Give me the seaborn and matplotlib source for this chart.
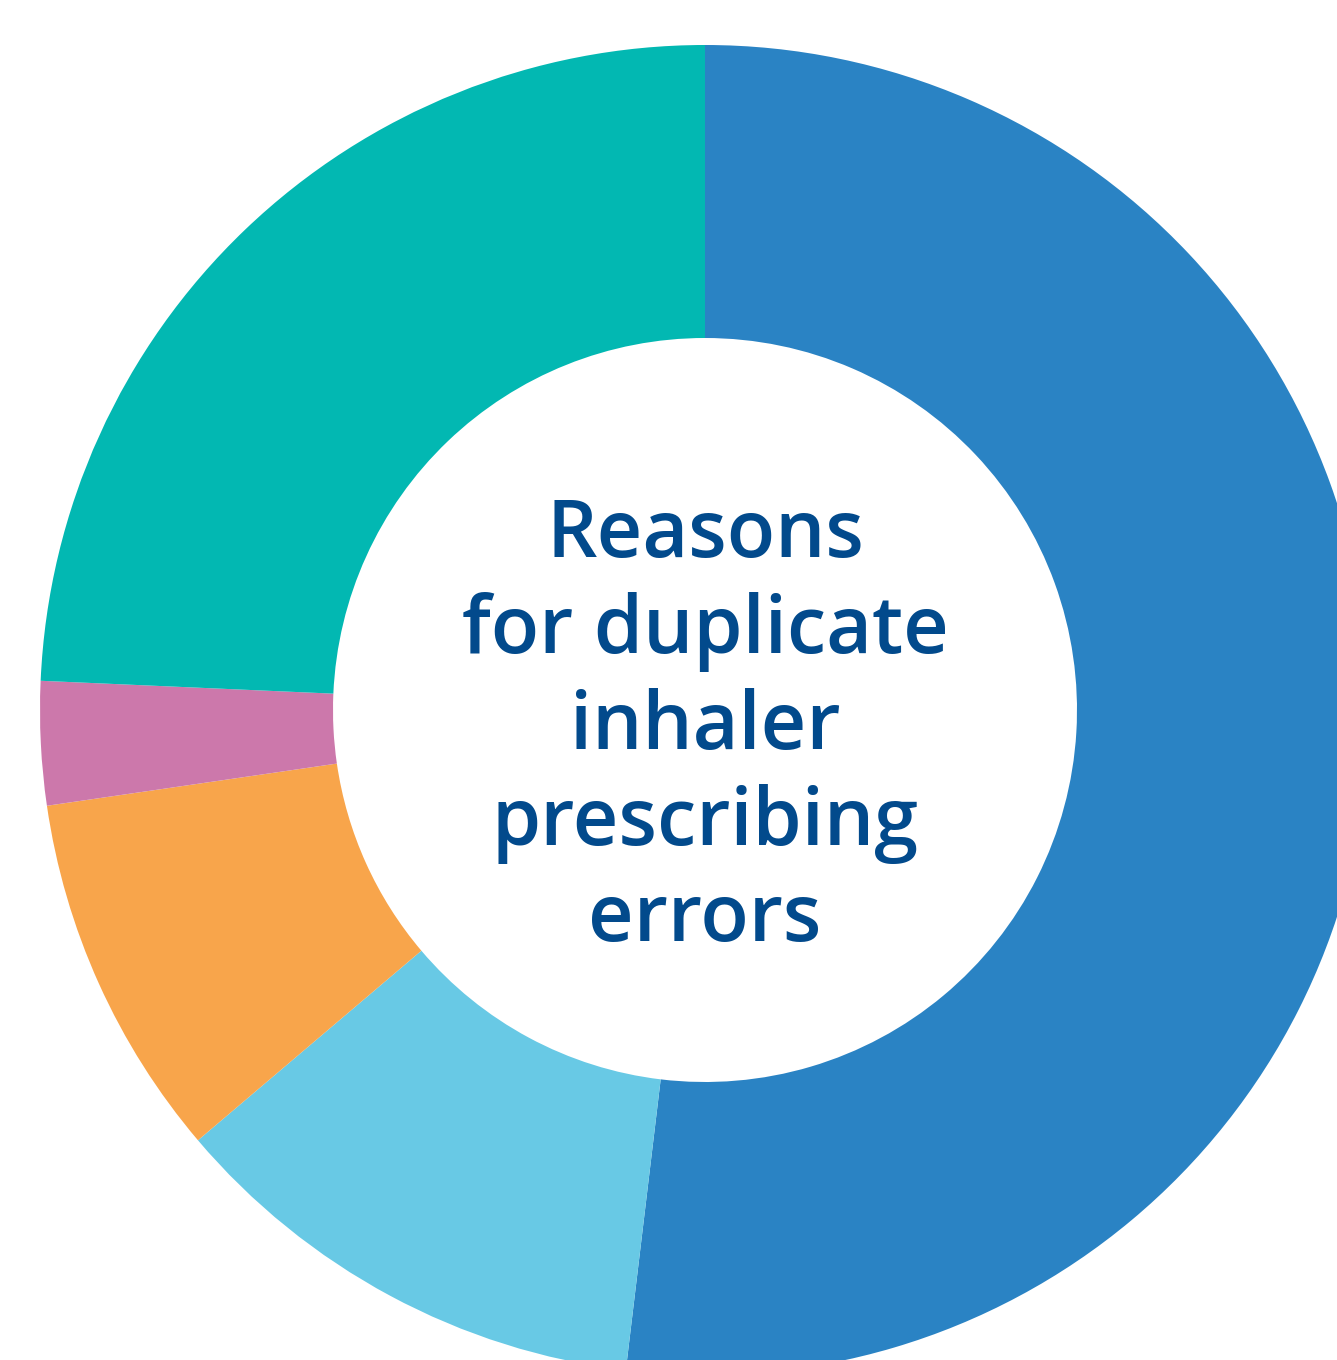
import matplotlib
matplotlib.use("Agg")
import matplotlib.pyplot as plt
import seaborn as sns

categories = ["Reason A", "Reason B", "Reason C", "Reason D", "Reason E"]
values = [51.9, 11.9, 8.9, 3.0, 24.3]
colors = ["#2a83c4", "#68c9e5", "#f8a54b", "#cc78ab", "#02b8b2"]
center_lines = ["Reasons", "for duplicate", "inhaler", "prescribing", "errors"]

sns.set_theme(style="white")
plt.rcParams["font.family"] = ["Open Sans", "DejaVu Sans"]

W, H = 1337, 1360
fig = plt.figure(figsize=(W / 100, H / 100), dpi=100)
ax = fig.add_axes([0, 0, 1, 1])

cx, cy = 705, H - 710
R_out, R_in = 665, 372
ax.pie(values, colors=colors, startangle=90, counterclock=False,
       center=(cx, cy), radius=R_out, frame=True,
       wedgeprops=dict(width=R_out - R_in, linewidth=0))
ax.set_xlim(0, W)
ax.set_ylim(0, H)
ax.set_aspect("equal")
ax.axis("off")

base0 = H - 557
spacing = 96
for i, line in enumerate(center_lines):
    ax.text(cx, base0 - i * spacing, line, ha="center", va="baseline",
            fontsize=57, fontweight="semibold", color="#024a8c")

fig.savefig("out.png", dpi=100)
